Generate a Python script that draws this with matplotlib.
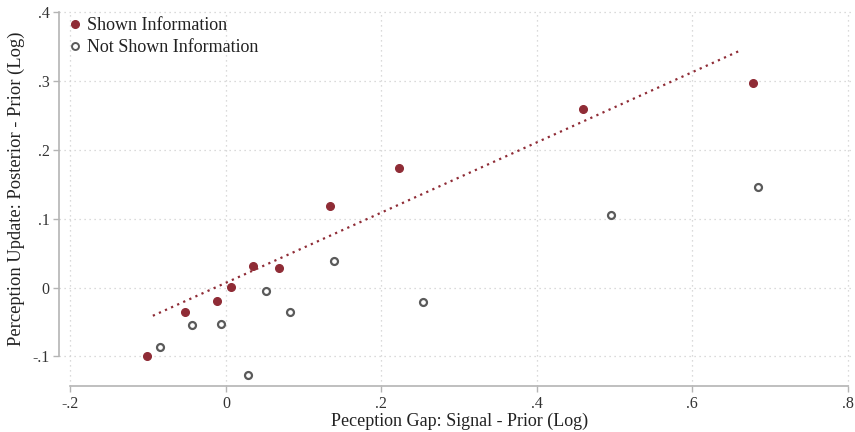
import matplotlib
matplotlib.use("Agg")
import matplotlib.pyplot as plt
from matplotlib.lines import Line2D

# Data
shown_x = [-0.102, -0.052, -0.012, 0.006, 0.035, 0.068, 0.1335, 0.2226, 0.459, 0.679]
shown_y = [-0.100, -0.036, -0.0196, 0.0003, 0.031, 0.028, 0.118, 0.173, 0.259, 0.297]
notshown_x = [-0.085, -0.043, -0.006, 0.029, 0.052, 0.082, 0.139, 0.254, 0.495, 0.685]
notshown_y = [-0.087, -0.054, -0.053, -0.127, -0.005, -0.036, 0.039, -0.021, 0.105, 0.146]
fit_x = [-0.094, 0.664]
fit_y = [-0.041, 0.345]
xticks = [-0.2, 0, 0.2, 0.4, 0.6, 0.8]
xtick_labels = ["-.2", "0", ".2", ".4", ".6", ".8"]
yticks = [-0.1, 0, 0.1, 0.2, 0.3, 0.4]
ytick_labels = ["-.1", "0", ".1", ".2", ".3", ".4"]

RED = "#8f2c36"
GRAY = "#5a5a5a"
plt.rcParams['font.family'] = ['Liberation Serif', 'DejaVu Serif']

W, H = 855, 432
L, R, T, B = 59.3, 851, 11, 385.7
AW, AH = R - L, B - T

fig = plt.figure(figsize=(8.55, 4.32), dpi=100)
ax = fig.add_axes([L/W, 1-B/H, AW/W, AH/H])
ax.set_xlim(-0.2144, 0.8045)
ax.set_ylim(-0.1425, 0.4013)

ax.set_xticks(xticks)
ax.set_xticklabels(xtick_labels)
ax.set_yticks(yticks)
ax.set_yticklabels(ytick_labels)
ax.grid(True, linestyle=(0, (1, 3)), color="#cfcfcf", linewidth=0.9)
ax.set_axisbelow(True)

for s in ["top", "right"]:
    ax.spines[s].set_visible(False)
ax.spines["left"].set_bounds(-0.1, 0.4)
ax.spines["bottom"].set_bounds(-0.2, 0.8)
for s in ["left", "bottom"]:
    ax.spines[s].set_color("#b4b4b4")
    ax.spines[s].set_linewidth(1.2)
ax.tick_params(axis="both", colors="#b4b4b4", labelcolor="#333333", length=4, width=1, labelsize=11.5)
ax.tick_params(axis="y", pad=3)

ax.plot(fit_x, fit_y, linestyle=(0, (1, 2)), color=RED, linewidth=1.6, zorder=2)
ax.plot(notshown_x, notshown_y, linestyle="none", marker="o", markersize=5,
        markerfacecolor="white", markeredgecolor=GRAY, markeredgewidth=1.6, zorder=3)
ax.plot(shown_x, shown_y, linestyle="none", marker="o", markersize=5.5,
        markerfacecolor=RED, markeredgecolor=RED, zorder=4)

ax.set_xlabel("Peception Gap: Signal - Prior (Log)", fontsize=13, color="#222222")
ax.set_ylabel("Perception Update: Posterior - Prior (Log)", fontsize=13.3, color="#222222")
ax.xaxis.set_label_coords((459.5-L)/AW, -(413-B)/AH)
ax.yaxis.set_label_coords(-(L-25)/AW, (B-189)/AH)

handles = [
    Line2D([], [], linestyle="none", marker="o", markersize=5.5, markerfacecolor=RED, markeredgecolor=RED),
    Line2D([], [], linestyle="none", marker="o", markersize=5, markerfacecolor="white",
           markeredgecolor=GRAY, markeredgewidth=1.4),
]
ax.legend(handles, ["Shown Information", "Not Shown Information"], loc="upper left",
          bbox_to_anchor=(-6/AW, 1.0 + 5/AH), frameon=False, fontsize=13, handletextpad=0.05,
          labelspacing=0.28, borderaxespad=0.2, handlelength=1.2, labelcolor="#222222")

fig.savefig("out.png", dpi=100)
